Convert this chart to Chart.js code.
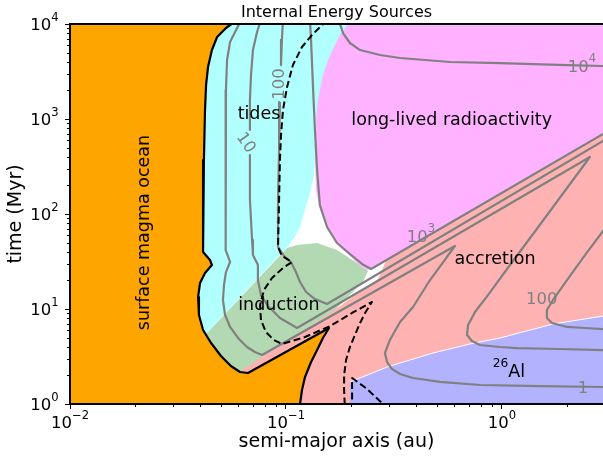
<!DOCTYPE html>
<html>
<head>
<meta charset="utf-8">
<title>Internal Energy Sources</title>
<script src="https://cdn.jsdelivr.net/npm/chart.js@4/dist/chart.umd.min.js"></script>
<style>
  html, body { margin: 0; padding: 0; background: #fff; }
  #wrap { width: 603px; height: 460px; }
</style>
</head>
<body>
<div id="wrap"><canvas id="chart" width="603" height="460"></canvas></div>
<script>
// All outlines are vertex lists of [log10 a (au), log10 t (Myr)].

// Axis ticks
const xTicks = [0.01, 0.1, 1];
const yTicks = [1, 10, 100, 1000, 10000];

// Regions where each heat source dominates
const magmaOcean = [
  [-2.1, 4.1], [-1.245, 4.011], [-1.278, 3.958], [-1.319, 3.863], [-1.343, 3.726], [-1.361, 3.547],
  [-1.370, 3.358], [-1.375, 3.095], [-1.380, 2.568], [-1.384, 2.147], [-1.384, 1.600], [-1.352, 1.516],
  [-1.343, 1.463], [-1.375, 1.379], [-1.398, 1.274], [-1.407, 1.126], [-1.403, 0.937], [-1.384, 0.779],
  [-1.347, 0.642], [-1.301, 0.505], [-1.255, 0.400], [-1.213, 0.337], [-1.176, 0.326], [-0.801, 0.800],
  [-0.829, 0.695], [-0.856, 0.568], [-0.884, 0.442], [-0.912, 0.284], [-0.926, 0.147], [-0.935, 0.0],
  [-0.940, -0.084], [-2.1, -0.084]
];
const tidalZone = [
  [-1.491, 4.105], [-0.634, 4.105], [-0.727, 3.832], [-0.787, 3.568], [-0.833, 3.200], [-0.861, 2.779],
  [-0.870, 2.411], [-0.889, 2.221], [-0.912, 2.042], [-0.935, 1.863], [-0.963, 1.747], [-0.995, 1.653],
  [-1.398, 0.674], [-1.491, 0.674]
];
const inductionZone = [
  [-1.444, 0.621], [-1.361, 0.758], [-0.995, 1.642], [-0.949, 1.674], [-0.856, 1.695], [-0.764, 1.621],
  [-0.671, 1.484], [-0.620, 1.400], [-0.644, 1.284], [-0.935, 0.621], [-1.213, 0.147], [-1.444, 0.147]
];
const radiogenicZone = [
  [-0.690, 4.105], [0.546, 4.105], [0.546, 2.947], [-0.606, 1.421], [-0.625, 1.411], [-0.657, 1.453],
  [-0.704, 1.558], [-0.750, 1.653], [-0.782, 1.758], [-0.815, 1.895], [-0.843, 2.042], [-0.861, 2.253],
  [-0.866, 2.568], [-0.866, 2.884], [-0.852, 3.200], [-0.829, 3.463], [-0.796, 3.674], [-0.750, 3.884],
  [-0.718, 3.979]
];
const accretionZone = [
  [-1.269, 0.253], [-1.181, 0.389], [-0.949, 0.737], [-0.829, 0.905], [-0.704, 1.105], [-0.574, 1.316],
  [-0.537, 1.505], [0.546, 2.947], [0.546, -0.084], [-1.028, -0.084]
];
const al26Zone = [
  [-0.704, -0.084], [-0.704, 0.232], [-0.634, 0.295], [-0.532, 0.389], [-0.426, 0.463], [-0.319, 0.537],
  [-0.148, 0.632], [-0.009, 0.695], [0.236, 0.842], [0.468, 0.926], [0.546, 0.958], [0.546, -0.084]
];

// Contours of total heating; null marks the break left for an inline label
const contour1 = [
  [-1.208, 4.042], [-1.231, 3.937], [-1.259, 3.811], [-1.273, 3.621], [-1.278, 3.305], [-1.278, 2.674],
  [-1.278, 2.147], [-1.282, 1.621], [-1.259, 1.495], [-1.278, 1.389], [-1.287, 1.253], [-1.292, 1.095],
  [-1.282, 0.937], [-1.259, 0.811], [-1.222, 0.695], [-1.181, 0.600], [-1.144, 0.547], [-1.111, 0.516],
  [-0.218, 1.663], [-0.333, 1.305], [-0.412, 1.021], [-0.472, 0.863], [-0.519, 0.674], [-0.542, 0.537],
  [-0.532, 0.442], [-0.509, 0.368], [-0.472, 0.316], [-0.412, 0.274], [-0.287, 0.232], [-0.102, 0.200],
  [0.176, 0.189], [0.468, 0.179], [0.546, 0.168]
];
const contour10 = [
  [-1.116, 4.042], [-1.134, 3.916], [-1.153, 3.726], [-1.162, 3.463], [-1.167, 3.200], [-1.167, 2.884],
  null,
  [-1.167, 2.621], [-1.167, 2.147], [-1.157, 1.726], [-1.153, 1.568], [-1.130, 1.463], [-1.130, 1.305],
  [-1.116, 1.147], [-1.083, 1.032], [-1.028, 0.905], [-0.949, 0.800], [0.407, 2.600], [0.185, 1.916],
  [0.037, 1.463], [-0.065, 1.147], [-0.125, 0.968], [-0.157, 0.832], [-0.162, 0.726], [-0.139, 0.663],
  [-0.102, 0.621], [-0.009, 0.600], [0.069, 0.589], [0.269, 0.579], [0.468, 0.568], [0.546, 0.568]
];
const contour100 = [
  [-1.014, 4.042], [-1.019, 3.832], [-1.023, 3.568],
  null,
  [-1.028, 3.179], [-1.032, 2.674], [-1.037, 2.147], [-1.037, 1.653], [-1.009, 1.558], [-0.977, 1.495],
  [-0.954, 1.389], [-0.935, 1.284], [-0.907, 1.179], [-0.866, 1.105], [-0.810, 1.053], [0.468, 2.768],
  [0.569, 2.905], [0.569, 2.095], [0.468, 1.821], [0.384, 1.568], [0.301, 1.305], [0.245, 1.126],
  [0.208, 0.989], [0.208, 0.905], [0.231, 0.853], [0.301, 0.811], [0.384, 0.800], [0.468, 0.789],
  [0.546, 0.789]
];
const contour1e3 = [
  [-0.889, 4.042], [-0.884, 3.832], [-0.875, 3.337], [-0.866, 2.884], [-0.856, 2.463], [-0.843, 2.095],
  [-0.810, 1.863], [-0.764, 1.695], [-0.704, 1.579], [-0.648, 1.474], [-0.606, 1.421], [0.468, 2.842],
  [0.546, 2.947]
];
const contour1e4 = [
  [-0.755, 4.042], [-0.750, 4.0], [-0.736, 3.905], [-0.704, 3.800], [-0.657, 3.726], [-0.565, 3.674],
  [-0.472, 3.642], [-0.241, 3.600], [-0.009, 3.589], [0.301, 3.568], [0.468, 3.558], [0.546, 3.558]
];

// Dashed boundaries
const boundaryA = [
  [-0.810, 4.042], [-0.833, 3.989], [-0.880, 3.884], [-0.926, 3.758], [-0.968, 3.568], [-0.995, 3.337],
  [-1.014, 3.095], [-1.023, 2.832], [-1.028, 2.568], [-1.032, 2.147], [-1.037, 1.653], [-1.019, 1.558],
  [-0.972, 1.495], [-1.014, 1.432], [-1.065, 1.326], [-1.102, 1.200], [-1.120, 1.042], [-1.116, 0.884],
  [-1.093, 0.758], [-1.056, 0.674], [-1.019, 0.632], [-0.912, 0.705], [-0.796, 0.821], [-0.694, 0.958],
  [-0.602, 1.074], [-0.634, 0.958], [-0.657, 0.853], [-0.681, 0.726], [-0.704, 0.600], [-0.722, 0.463],
  [-0.731, 0.305], [-0.731, 0.147], [-0.727, -0.063]
];
const boundaryB = [[-0.694, -0.063], [-0.694, 0.274], [-0.630, 0.168], [-0.551, 0.0], [-0.519, -0.053]];

// Text placed in data space ("^{..}" marks a superscript)
const regionNames = ['surface magma ocean', 'tides', 'long-lived radioactivity', 'induction', 'accretion', '^{26}Al'];
const regionNameAt = [[-1.657, 1.805], [-1.125, 3.053], [-0.233, 2.989], [-1.033, 1.036], [-0.032, 1.526], [0.032, 0.355]];
const contourTags = ['10^{4}', '10^{3}', '100', '1', '10', '100'];
const contourTagAt = [[0.370, 3.561], [-0.375, 1.772], [0.184, 1.113], [0.375, 0.179], [-1.181, 2.758], [-1.037, 3.368]];

// ---------------------------------------------------------------------------
const FONT = 'DejaVu Sans';
const GRAY = '#808080';
const toPoint = p => (p ? { x: 10 ** p[0], y: 10 ** p[1] } : { x: null, y: null });
const powerLabel = v => '10^{' + String(Math.round(Math.log10(v))).replace('-', '\u2212') + '}';

// split "10^{4}" into [['10', false], ['4', true]]
function parseRich(s) {
  const parts = [];
  const re = /\^\{([^}]*)\}/g;
  let last = 0, m;
  while ((m = re.exec(s))) {
    if (m.index > last) parts.push([s.slice(last, m.index), false]);
    parts.push([m[1], true]);
    last = re.lastIndex;
  }
  if (last < s.length) parts.push([s.slice(last), false]);
  return parts;
}

// draws text with superscripts; (x, base) is the anchor, base is the baseline
function drawRich(ctx, text, x, base, size, color, align, angle) {
  const parts = parseRich(text);
  const supSize = size * 0.7;
  ctx.save();
  ctx.translate(x, base);
  if (angle) ctx.rotate(angle * Math.PI / 180);
  ctx.fillStyle = color;
  ctx.textAlign = 'left';
  ctx.textBaseline = 'alphabetic';
  const widths = parts.map(([t, sup]) => {
    ctx.font = (sup ? supSize : size) + 'px "' + FONT + '"';
    return ctx.measureText(t).width;
  });
  const total = widths.reduce((s, w) => s + w, 0);
  let cx = align === 'right' ? -total : align === 'left' ? 0 : -total / 2;
  parts.forEach(([t, sup], i) => {
    ctx.font = (sup ? supSize : size) + 'px "' + FONT + '"';
    ctx.fillText(t, cx, sup ? -0.56 * size : 0);
    cx += widths[i];
  });
  ctx.restore();
}

const area = (pts, color) => ({
  data: pts.map(toPoint), fill: 'shape', backgroundColor: color,
  borderColor: 'rgba(0,0,0,0)', borderWidth: 1
});
const curve = (pts, color, width, dash) => ({
  data: pts.map(toPoint), fill: false, borderColor: color, borderWidth: width,
  borderDash: dash || [], borderJoinStyle: 'round', borderCapStyle: 'butt'
});

// Paint order, bottom first
const layers = [
  area(tidalZone, '#B2FFFF'),
  area(inductionZone, '#B2D9B2'),
  area(radiogenicZone, '#FFB2FF'),
  area(accretionZone, '#FFB2B2'),
  area(al26Zone, '#B2B2FF'),
  curve(al26Zone.slice(1, 11), '#FFFFFF', 1),
  Object.assign(area(magmaOcean, '#FFA500'), { borderColor: '#000000', borderWidth: 2.2, borderJoinStyle: 'round' }),
  curve(contour1, GRAY, 2.2),
  curve(contour10, GRAY, 2.2),
  curve(contour100, GRAY, 2.2),
  curve(contour1e3, GRAY, 2.2),
  curve(contour1e4, GRAY, 2.2),
  curve(boundaryA, '#000000', 2, [7, 3.5]),
  curve(boundaryB, '#000000', 2, [7, 3.5])
];
layers.forEach((d, i) => { d.order = layers.length - i; d.clip = 0; d.spanGaps = false; });

const decorations = {
  id: 'decorations',
  afterDraw(chart) {
    const { ctx, chartArea: a, scales: { x, y } } = chart;
    ctx.save();
    // top spine
    ctx.strokeStyle = '#000';
    ctx.lineWidth = 2;
    ctx.beginPath();
    ctx.moveTo(a.left - 1, a.top);
    ctx.lineTo(a.right, a.top);
    ctx.stroke();

    // minor ticks
    ctx.lineWidth = 1;
    ctx.beginPath();
    for (let e = -2; e <= 0; e++) {
      for (let k = 2; k <= 9; k++) {
        const v = k * 10 ** e;
        if (v > x.max) continue;
        const px = Math.round(x.getPixelForValue(v)) + 0.5;
        ctx.moveTo(px, a.bottom);
        ctx.lineTo(px, a.bottom + 3);
      }
    }
    for (let e = 0; e <= 3; e++) {
      for (let k = 2; k <= 9; k++) {
        const py = Math.round(y.getPixelForValue(k * 10 ** e)) + 0.5;
        ctx.moveTo(a.left, py);
        ctx.lineTo(a.left - 3, py);
      }
    }
    ctx.stroke();

    // tick labels
    const tickSize = 16.5;
    xTicks.forEach(v => drawRich(ctx, powerLabel(v), x.getPixelForValue(v), a.bottom + 24, tickSize, '#000', 'center'));
    yTicks.forEach(v => drawRich(ctx, powerLabel(v), a.left - 11.5, y.getPixelForValue(v) + 6, tickSize, '#000', 'right'));

    // inline contour labels and region names
    const at = p => [x.getPixelForValue(10 ** p[0]), y.getPixelForValue(10 ** p[1])];
    const tagAngle = [0, 0, 0, 0, 55, -90];
    contourTags.forEach((t, i) => {
      const [px, py] = at(contourTagAt[i]);
      const size = 16.5;
      ctx.save();
      ctx.translate(px, py);
      ctx.rotate(tagAngle[i] * Math.PI / 180);
      drawRich(ctx, t, 0, 0.3645 * size, size, GRAY, 'center');
      ctx.restore();
    });
    regionNames.forEach((t, i) => {
      const [px, py] = at(regionNameAt[i]);
      const size = 17.5;
      ctx.save();
      ctx.translate(px, py);
      if (i === 0) ctx.rotate(-Math.PI / 2);
      if (t.indexOf('^{') >= 0) {
        drawRich(ctx, t, 0, 0.3645 * size, size, '#000', 'center');
      } else {
        ctx.font = size + 'px "' + FONT + '"';
        ctx.fillStyle = '#000';
        ctx.textAlign = 'center';
        ctx.textBaseline = 'middle';
        ctx.fillText(t, 0, 0);
      }
      ctx.restore();
    });

    // title
    ctx.font = '16px "' + FONT + '"';
    ctx.fillStyle = '#000';
    ctx.textAlign = 'center';
    ctx.textBaseline = 'alphabetic';
    ctx.fillText('Internal Energy Sources', (a.left + a.right) / 2, 16.5);
    ctx.restore();
  }
};

Chart.defaults.font.family = FONT;

new Chart(document.getElementById('chart'), {
  type: 'line',
  data: { datasets: layers },
  options: {
    responsive: false,
    animation: false,
    devicePixelRatio: 1,
    events: [],
    layout: { padding: { top: 24, right: 0, bottom: 0, left: 0 } },
    elements: { point: { radius: 0, hoverRadius: 0 }, line: { tension: 0 } },
    plugins: { legend: { display: false }, tooltip: { enabled: false }, title: { display: false } },
    scales: {
      x: {
        type: 'logarithmic', position: 'bottom', min: 0.01, max: 2.935,
        afterFit: s => { s.height = 56; },
        afterBuildTicks: s => { s.ticks = xTicks.map(v => ({ value: v })); },
        ticks: { display: false, autoSkip: false },
        grid: { drawOnChartArea: false, drawTicks: true, tickLength: 5, tickWidth: 1, tickColor: '#000' },
        border: { display: true, color: '#000', width: 2, z: 1 },
        title: { display: true, text: 'semi-major axis (au)', color: '#000', font: { size: 19 }, padding: { top: 0, bottom: 6.5 } }
      },
      y: {
        type: 'logarithmic', position: 'left', min: 1, max: 10000,
        afterFit: s => { s.width = 70; },
        afterBuildTicks: s => { s.ticks = yTicks.map(v => ({ value: v })); },
        ticks: { display: false, autoSkip: false },
        grid: { drawOnChartArea: false, drawTicks: true, tickLength: 5, tickWidth: 1, tickColor: '#000' },
        border: { display: true, color: '#000', width: 2, z: 1 },
        title: { display: true, text: 'time (Myr)', color: '#000', font: { size: 19 }, padding: { top: 4.3, bottom: 0 } }
      }
    }
  },
  plugins: [decorations]
});
</script>
</body>
</html>
